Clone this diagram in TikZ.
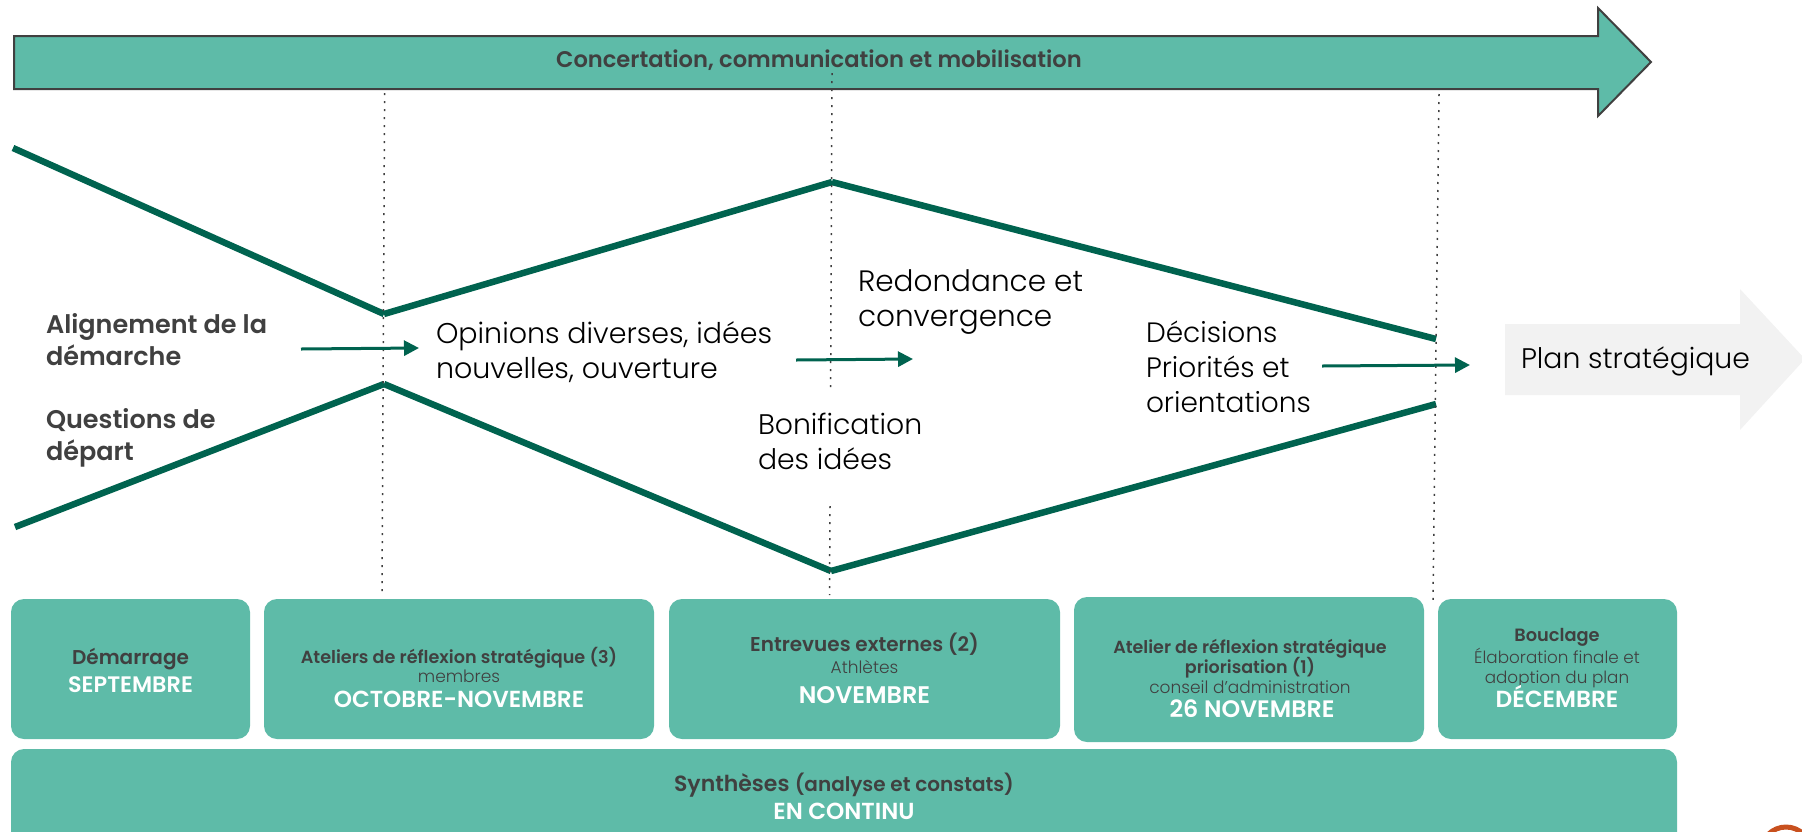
\documentclass[tikz,border=0pt]{standalone}
\usepackage{fontspec}
\setmainfont{Poppins}[UprightFont=* Light,BoldFont=* SemiBold]
\usetikzlibrary{arrows.meta}
\definecolor{teal}{HTML}{5EBBA8}
\definecolor{darkteal}{HTML}{00634F}
\definecolor{ink}{HTML}{404040}
\definecolor{pale}{HTML}{F2F2F2}
\definecolor{orange}{HTML}{C8501E}
\newcommand{\fs}[2]{\fontsize{#1}{#2}\selectfont}
\tikzset{
  x=1pt,y=-1pt,
  heavy/.style={draw=darkteal,line width=6.5pt,line cap=butt},
  guide/.style={draw=ink,line width=1.5pt,dash pattern=on 2pt off 6pt},
  flow/.style={draw=darkteal,line width=3pt,-{Triangle[length=15pt,width=15pt]}},
  card/.style={fill=teal,rounded corners=13pt},
  txt/.style={inner sep=0pt,outer sep=0pt,text=black,align=left,anchor=west},
  headtxt/.style={inner sep=0pt,outer sep=0pt,text=ink,align=left,anchor=west,font=\bfseries\fs{25.5}{32}},
  lbl/.style={inner sep=0pt,outer sep=0pt,text=ink,align=center},
  strongl/.style={inner sep=0pt,outer sep=0pt,text=ink,anchor=base,font=\bfseries\fs{#1}{#1}},
  plainl/.style={inner sep=0pt,outer sep=0pt,text=ink,anchor=base,font=\fs{#1}{#1}},
  monthl/.style={inner sep=0pt,outer sep=0pt,text=white,anchor=base,font=\bfseries\fs{#1}{#1}},
}
\begin{document}
\begin{tikzpicture}
\useasboundingbox (0,0) rectangle (1802,831);
% top arrow
\path[fill=teal,draw=ink,line width=2pt,line join=miter]
  (14,36) -- (1598,36) -- (1598,8) -- (1651,62) -- (1598,116) -- (1598,89) -- (14,89) -- cycle;
\node[lbl,font=\bfseries\fs{22.6}{28}] (bar) at (819,60) {Concertation, communication et mobilisation};
% plan arrow
\path[fill=pale] (1505,324) -- (1740,324) -- (1740,289) -- (1805,359) -- (1740,430) -- (1740,395) -- (1505,395) -- cycle;
\node[txt,font=\fs{28.3}{35}] (plan) at (1521,361) {Plan stratégique};
% heavy lines
\coordinate (ua) at (13,148);
\coordinate (ub) at (384,314);
\coordinate (uc) at (832,182);
\coordinate (ud) at (1436,339);
\coordinate (la) at (15,527);
\coordinate (lb) at (384,384);
\coordinate (lc) at (831,571);
\coordinate (ld) at (1436,404);
\draw[heavy] (ua) -- (ub);
\draw[heavy] (ub) -- (uc);
\draw[heavy] (uc) -- (ud);
\draw[heavy] (la) -- (lb);
\draw[heavy] (lb) -- (lc);
\draw[heavy] (lc) -- (ld);
% guides
\coordinate (g1a) at (384.6,93); \coordinate (g1b) at (382,592);
\coordinate (g2a) at (832,73); \coordinate (g2b) at (830.6,387);
\coordinate (g3a) at (830,506); \coordinate (g3b) at (829.5,595);
\coordinate (g4a) at (1439,94); \coordinate (g4b) at (1433,600);
\draw[guide] (g1a) -- (g1b);
\draw[guide] (g2a) -- (g2b);
\draw[guide] (g3a) -- (g3b);
\draw[guide] (g4a) -- (g4b);
% flow arrows
\coordinate (f1a) at (301,349); \coordinate (f1b) at (419,348);
\coordinate (f2a) at (796,360); \coordinate (f2b) at (913,359);
\coordinate (f3a) at (1322,366); \coordinate (f3b) at (1470,365);
\draw[flow] (f1a) -- (f1b);
\draw[flow] (f2a) -- (f2b);
\draw[flow] (f3a) -- (f3b);
% labels
\node[headtxt] (align) at (46,340) {Alignement de la\\démarche};
\node[headtxt] (quest) at (46,438) {Questions de\\départ};
\node[txt,font=\fs{28.5}{35}] (opin) at (436,352) {Opinions diverses, idées\\nouvelles, ouverture};
\node[txt,font=\fs{29.5}{35}] (redo) at (858,302) {Redondance et\\convergence};
\node[txt,font=\fs{28}{35}] (deci) at (1146,367) {Décisions\\Priorités et\\orientations};
\node[txt,font=\fs{28.3}{35}] (boni) at (758,441) {Bonification\\des idées};
% cards
\path[card] (11,599) rectangle (250,739);
\path[card] (264,599) rectangle (654,739);
\path[card] (669,599) rectangle (1060,739);
\path[card] (1074,597) rectangle (1424,742);
\path[card] (1438,599) rectangle (1677,739);
\path[card] (11,749) rectangle (1677,860);
\node[strongl=20] (c1a) at (130.5,664.5) {Démarrage};
\node[monthl=22.4] (c1b) at (130.5,692.3) {SEPTEMBRE};
\node[strongl=17.6] (c2a) at (459,663) {Ateliers de réflexion stratégique (3)};
\node[plainl=17] (c2b) at (459,682.7) {membres};
\node[monthl=23.2] (c2c) at (459,707.3) {OCTOBRE-NOVEMBRE};
\node[strongl=20] (c3a) at (864.5,651.7) {Entrevues externes (2)};
\node[plainl=17] (c3b) at (864.5,673.3) {Athlètes};
\node[monthl=24] (c3c) at (864.5,703.3) {NOVEMBRE};
\node[strongl=17.5] (c4a) at (1250,653.3) {Atelier de réflexion stratégique};
\node[strongl=17.5] (c4b) at (1250,673.3) {priorisation (1)};
\node[plainl=17] (c4c) at (1250,693.3) {conseil d’administration};
\node[monthl=23.8] (c4d) at (1252,717.3) {26 NOVEMBRE};
\node[strongl=17.8] (c5a) at (1557,641.7) {Bouclage};
\node[plainl=16.8] (c5b) at (1557,663.3) {Élaboration finale et};
\node[plainl=16.8] (c5c) at (1557,683) {adoption du plan};
\node[monthl=23.3] (c5d) at (1557,707.3) {DÉCEMBRE};
\node[strongl=22] (c6a) at (844,791) {Synthèses {\fontsize{20}{20}\selectfont(analyse et constats)}};
\node[monthl=23.2] (c6b) at (844,819.3) {EN CONTINU};
\path[clip] (0,0) rectangle (1802,831);
\draw[orange,line width=5pt] (1786,852) circle (25);
\end{tikzpicture}
\end{document}
